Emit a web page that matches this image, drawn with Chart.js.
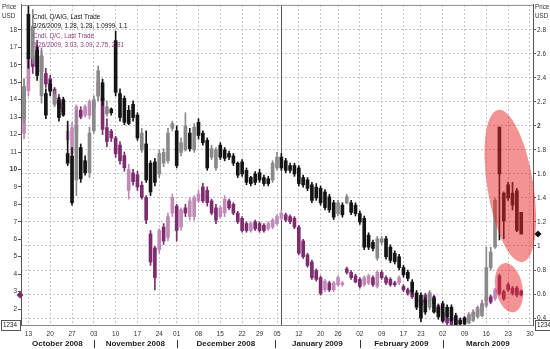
<!DOCTYPE html>
<html>
<head>
<meta charset="utf-8">
<title>AIG / C candles</title>
<script src="https://cdn.jsdelivr.net/npm/chart.js@4.4.1/dist/chart.umd.min.js"></script>
<style>
  html, body { margin: 0; padding: 0; background: #fff; }
  #wrap { width: 550px; height: 349px; }
</style>
</head>
<body>
<div id="wrap"><canvas id="chart" width="550" height="349"></canvas></div>
<script>
// one entry per trading day, 10 Oct 2008 (index 0) to 26 Mar 2009 (index 114)
const aigOpen = [2.06,2.93,2.56,2.63,2.25,2.27,2.35,2.18,2.21,2.22,
  1.77,1.75,1.55,1.82,1.71,1.61,1.96,2.25,2.36,2.10,
  2.14,2.71,2.27,2.23,2.13,2.18,2.09,1.80,1.85,1.69,
  1.70,1.60,1.69,1.71,1.98,1.96,1.78,1.80,1.94,1.80,
  2.03,1.94,1.88,1.74,1.65,1.84,1.80,1.77,1.75,1.69,
  1.70,1.63,1.57,1.60,1.61,1.57,1.56,1.55,1.65,1.74,
  1.71,1.67,1.67,1.65,1.57,1.55,1.51,1.49,1.48,1.45,
  1.41,1.36,1.27,1.34,1.36,1.36,1.34,1.27,1.23,1.09,
  1.03,0.90,1.03,1.06,0.99,0.94,0.91,0.82,0.78,0.70,
  0.61,0.59,0.55,0.49,0.56,0.49,0.52,0.49,0.49,0.42,
  0.38,0.40,0.36,0.38,0.41,0.42,0.55,0.82,0.99,1.99,
  1.44,1.51,1.44,1.46,1.28];
const aigHigh = [2.39,3.00,2.97,2.67,2.65,2.31,2.38,2.29,2.24,2.24,
  2.04,1.82,2.13,1.85,1.75,1.99,2.25,2.50,2.39,2.21,
  2.15,2.79,2.31,2.25,2.17,2.21,2.11,1.98,1.96,1.71,
  1.73,1.80,1.81,1.98,2.04,2.00,1.90,2.11,1.98,2.02,
  2.06,1.96,1.90,1.84,1.82,1.86,1.82,1.79,1.77,1.70,
  1.72,1.65,1.58,1.62,1.64,1.59,1.58,1.71,1.78,1.77,
  1.73,1.69,1.69,1.67,1.59,1.57,1.53,1.52,1.50,1.47,
  1.43,1.38,1.38,1.36,1.43,1.38,1.36,1.29,1.25,1.11,
  1.05,1.08,1.08,1.08,1.01,0.96,0.93,0.84,0.80,0.72,
  0.63,0.61,0.57,0.63,0.58,0.51,0.54,0.51,0.51,0.44,
  0.40,0.41,0.44,0.47,0.49,0.55,0.99,0.99,1.40,1.99,
  1.45,1.53,1.53,1.48,1.28];
const aigLow = [2.03,2.48,2.52,2.38,2.19,2.06,2.25,2.16,2.04,2.08,
  1.67,1.34,1.42,1.53,1.59,1.57,1.94,2.21,2.17,2.08,
  2.09,2.25,2.04,2.01,2.01,2.04,1.88,1.78,1.53,1.42,
  1.50,1.57,1.66,1.69,1.96,1.65,1.75,1.79,1.79,1.78,
  1.89,1.84,1.63,1.72,1.63,1.72,1.71,1.72,1.67,1.57,
  1.58,1.51,1.50,1.51,1.53,1.50,1.50,1.53,1.63,1.63,
  1.61,1.61,1.58,1.50,1.49,1.46,1.36,1.38,1.34,1.30,
  1.28,1.22,1.25,1.24,1.35,1.26,1.25,1.18,0.97,0.97,
  0.96,0.88,1.01,0.89,0.86,0.85,0.80,0.74,0.71,0.60,
  0.47,0.37,0.43,0.47,0.44,0.39,0.37,0.40,0.37,0.33,
  0.34,0.34,0.35,0.37,0.40,0.41,0.49,0.80,0.98,1.05,
  1.06,1.38,1.30,1.12,1.0999];
const aigClose = [2.33,2.56,2.83,2.42,2.58,2.09,2.29,2.26,2.07,2.09,
  1.69,1.36,2.00,1.56,1.61,1.94,2.21,2.46,2.21,2.16,
  2.11,2.28,2.07,2.03,2.02,2.07,1.90,1.94,1.55,1.45,
  1.53,1.77,1.78,1.94,2.02,1.67,1.86,2.00,1.81,1.99,
  1.92,1.86,1.65,1.81,1.80,1.74,1.73,1.74,1.69,1.59,
  1.60,1.53,1.52,1.53,1.55,1.52,1.52,1.69,1.74,1.65,
  1.63,1.63,1.60,1.52,1.51,1.48,1.38,1.40,1.36,1.32,
  1.30,1.24,1.36,1.26,1.41,1.28,1.27,1.20,0.99,0.99,
  0.98,1.06,1.06,0.91,0.88,0.87,0.82,0.76,0.73,0.62,
  0.49,0.40,0.45,0.61,0.45,0.41,0.38,0.41,0.38,0.34,
  0.35,0.35,0.42,0.45,0.47,0.52,0.82,0.95,1.38,1.60,
  1.21,1.40,1.34,1.13,1.1];

const citiOpen = [12.06,14.51,16.50,17.00,16.50,15.50,15.20,14.60,14.10,13.80,
  11.70,10.90,12.20,13.40,13.10,13.10,13.50,14.20,14.10,12.40,
  12.20,11.80,11.40,10.80,8.80,9.80,9.70,9.10,8.40,6.30,
  5.50,5.40,6.70,6.10,7.50,7.90,6.70,7.80,7.30,7.30,
  8.20,9.00,8.80,8.20,7.80,7.30,7.50,8.20,8.00,7.50,
  7.20,6.90,6.50,7.00,6.90,6.80,6.60,6.70,6.90,7.20,
  7.40,7.30,7.20,6.70,5.90,5.10,4.70,4.20,3.80,3.10,
  3.50,3.10,3.40,3.40,4.30,4.10,3.90,3.70,3.40,3.50,
  3.80,3.30,4.10,3.80,3.70,3.50,3.50,3.30,3.10,3.10,
  2.40,2.50,2.80,2.50,2.70,2.20,1.80,1.50,1.40,1.10,
  1.20,1.30,1.40,1.60,1.70,1.90,2.20,2.70,2.60,3.90,
  3.00,3.40,3.20,3.20,3.03];
const citiHigh = [15.20,17.10,17.40,17.40,16.80,15.80,15.40,14.70,14.30,13.90,
  12.50,12.70,13.70,13.60,13.70,14.00,14.10,15.40,14.50,12.90,
  12.30,11.90,11.60,11.00,10.30,10.00,9.90,9.30,8.50,6.50,
  5.60,6.60,6.90,7.50,8.60,8.00,7.80,8.00,8.40,8.50,
  8.80,9.20,9.00,8.30,8.00,7.90,8.50,8.30,8.10,7.60,
  7.30,7.00,7.00,7.10,7.00,6.90,7.00,7.20,7.40,7.70,
  7.50,7.40,7.30,6.80,6.00,5.20,4.80,4.30,3.90,3.70,
  3.60,3.60,3.90,3.60,4.40,4.20,4.00,3.80,3.90,4.00,
  3.90,4.20,4.20,3.90,3.80,3.60,3.90,3.40,3.20,3.20,
  2.80,2.60,2.90,3.00,2.80,2.30,1.90,1.60,1.50,1.50,
  1.50,1.60,1.80,1.90,2.20,2.40,2.80,2.80,3.20,4.00,
  3.10,3.50,3.30,3.30,3.09];
const citiLow = [11.77,14.20,15.50,15.70,15.40,14.70,14.30,13.70,13.30,13.10,
  11.50,10.70,12.00,12.90,13.00,12.90,13.30,14.00,12.00,11.30,
  11.60,10.70,10.30,9.90,8.30,9.10,8.80,8.30,6.90,4.50,
  3.10,5.20,5.70,5.90,7.30,5.90,6.50,7.30,7.10,7.10,
  8.10,8.10,7.90,7.40,6.90,7.20,7.30,7.70,7.40,6.90,
  6.40,6.40,6.40,6.50,6.40,6.40,6.50,6.60,6.80,7.10,
  7.00,6.90,6.60,5.10,4.90,4.40,3.70,3.60,2.80,3.00,
  3.00,3.00,3.30,3.30,4.00,3.70,3.50,3.20,3.30,3.40,
  3.30,3.20,3.70,3.40,3.30,3.30,3.40,3.00,2.80,2.60,
  2.30,2.10,2.30,2.40,2.20,1.70,1.20,1.10,1.05,1.05,
  1.10,1.20,1.30,1.50,1.60,1.80,2.10,2.30,2.50,2.80,
  2.50,3.00,2.80,2.70,2.75];
const citiClose = [14.51,16.50,15.90,15.90,15.60,14.90,14.50,13.80,13.50,13.30,
  12.20,12.40,13.60,13.00,13.60,13.90,14.00,15.00,12.30,11.60,
  11.80,10.90,10.50,10.10,10.00,9.30,9.00,8.40,7.10,4.70,
  3.80,6.50,5.90,7.30,8.40,6.50,7.70,7.50,8.20,8.40,
  8.60,8.20,8.10,7.50,7.10,7.80,8.30,7.80,7.50,7.00,
  6.50,6.50,6.90,6.60,6.50,6.50,6.90,7.10,7.30,7.50,
  7.10,7.00,6.70,5.20,5.00,4.50,3.80,3.70,2.90,3.60,
  3.10,3.50,3.80,3.50,4.10,3.80,3.55,3.30,3.80,3.90,
  3.40,4.10,3.80,3.50,3.40,3.40,3.80,3.10,2.90,2.70,
  2.70,2.20,2.40,2.90,2.30,1.80,1.30,1.20,1.10,1.40,
  1.40,1.50,1.70,1.80,2.10,2.30,2.60,2.40,3.10,2.90,
  2.60,3.10,2.90,2.80,2.81];

const lastDate = '3/26/2009';

// x axis: trading-day index of each Monday (or first day of the week)
const weekTickIdx = [1, 6, 11, 16, 21, 26, 31, 35, 40, 45, 50, 54, 58, 63, 68, 72, 77, 82, 87, 91, 96, 101, 106, 111, 116];
const weekTickLabels = ['13', '20', '27', '03', '10', '17', '24', '01', '08', '15', '22', '29', '05', '12', '20', '26', '02', '09', '17', '23', '02', '09', '16', '23', '30'];
const monthNames = ['October 2008', 'November 2008', 'December 2008', 'January 2009', 'February 2009', 'March 2009'];
const monthStartIdx = [-0.7, 16, 35, 57.5, 77, 96, 116.7];

const aigTicks = [0.4, 0.6, 0.8, 1, 1.2, 1.4, 1.6, 1.8, 2, 2.2, 2.4, 2.6, 2.8];
const citiTicks = [2, 3, 4, 5, 6, 7, 8, 9, 10, 11, 12, 13, 14, 15, 16, 17, 18];

const FONT = '"Liberation Sans", Arial, sans-serif';
const markerDay = 59;
const highlights = [
  { day: 111.5, value: 1.50, rx: 23, ry: 77, rot: -0.16 },
  { day: 111.2, value: 0.653, rx: 13.5, ry: 25, rot: -0.2 }
];

const days = aigOpen.map((_, i) => i);
const aigColors = days.map(i => aigClose[i] >= aigOpen[i] ? '#8a8a8a' : '#141414');
const citiColors = days.map(i => citiClose[i] >= citiOpen[i] ? '#c08ab6' : '#7d2d6e');

function candleSets(open, high, low, close, colors, axis, order) {
  return [
    {
      label: axis + ' body',
      data: days.map(i => ({ x: i, y: [open[i], close[i]] })),
      backgroundColor: colors,
      yAxisID: axis,
      barThickness: 3,
      minBarLength: 1,
      grouped: false,
      order: order
    },
    {
      label: axis + ' wick',
      data: days.map(i => ({ x: i, y: [low[i], high[i]] })),
      backgroundColor: colors,
      yAxisID: axis,
      barThickness: 1,
      grouped: false,
      order: order + 1
    }
  ];
}

const annotations = {
  id: 'annotations',
  beforeDatasetsDraw(chart) {
    const { ctx, chartArea: area, scales } = chart;
    const px = Math.round(scales.x.getPixelForValue(markerDay)) + 0.5;
    ctx.save();
    ctx.strokeStyle = '#4d5566';
    ctx.lineWidth = 1;
    ctx.beginPath();
    ctx.moveTo(px, area.top);
    ctx.lineTo(px, area.bottom);
    ctx.stroke();
    ctx.restore();
  },
  afterDatasetsDraw(chart) {
    const { ctx, chartArea: area, scales } = chart;
    const last = days.length - 1;
    ctx.save();
    ctx.fillStyle = 'rgba(232, 40, 40, 0.5)';
    highlights.forEach(h => {
      ctx.beginPath();
      ctx.ellipse(scales.x.getPixelForValue(h.day), scales.y.getPixelForValue(h.value), h.rx, h.ry, h.rot, 0, Math.PI * 2);
      ctx.fill();
    });

    const lines = [
      ['Cndl, Q/AIG, Last Trade', '#111'],
      [`${lastDate}, ${aigOpen[last]}, ${aigHigh[last]}, ${aigLow[last]}, ${aigClose[last]}`, '#111'],
      ['Cndl, Q/C, Last Trade', '#8e3d80'],
      [`${lastDate}, ${citiOpen[last]}, ${citiHigh[last]}, ${citiLow[last]}, ${citiClose[last]}`, '#8e3d80']
    ];
    ctx.font = `6.3px ${FONT}`;
    ctx.textBaseline = 'middle';
    ctx.textAlign = 'left';
    lines.forEach((l, k) => {
      ctx.fillStyle = l[1];
      ctx.fillText(l[0], area.left + 12, area.top + 12 + k * 9.5);
    });
    ctx.restore();
  },
  afterDraw(chart) {
    const { ctx, chartArea: area, scales } = chart;
    const last = days.length - 1;
    ctx.save();

    // top frame line
    ctx.strokeStyle = '#8a8a8a';
    ctx.lineWidth = 1;
    ctx.beginPath();
    ctx.moveTo(area.left, area.top + 0.5);
    ctx.lineTo(area.right, area.top + 0.5);
    ctx.stroke();

    // last-close markers on both axes
    const diamond = (x, y, color) => {
      ctx.fillStyle = color;
      ctx.beginPath();
      ctx.moveTo(x, y - 3.5);
      ctx.lineTo(x + 3.5, y);
      ctx.lineTo(x, y + 3.5);
      ctx.lineTo(x - 3.5, y);
      ctx.closePath();
      ctx.fill();
    };
    diamond(area.left - 1, scales.y1.getPixelForValue(citiClose[last]), '#7d2d6e');
    diamond(area.right + 5, scales.y.getPixelForValue(aigClose[last]), '#111');

    // month row
    ctx.font = `bold 8px ${FONT}`;
    ctx.fillStyle = '#222';
    ctx.textAlign = 'center';
    ctx.textBaseline = 'middle';
    monthNames.forEach((m, k) => {
      const c = (monthStartIdx[k] + monthStartIdx[k + 1]) / 2;
      ctx.fillText(m, scales.x.getPixelForValue(c), area.bottom + 19);
    });
    ctx.strokeStyle = '#333';
    monthStartIdx.slice(1, -1).forEach(v => {
      const px = Math.round(scales.x.getPixelForValue(v)) + 0.5;
      ctx.beginPath();
      ctx.moveTo(px, area.bottom + 15);
      ctx.lineTo(px, area.bottom + 23);
      ctx.stroke();
    });

    // unit captions
    ctx.font = `6.3px ${FONT}`;
    ctx.fillStyle = '#333';
    ctx.textAlign = 'left';
    ctx.fillText('Price', 2, 7);
    ctx.fillText('USD', 2, 16);
    ctx.fillText('Price', area.right + 2, 7);
    ctx.fillText('USD', area.right + 2, 16);

    // small boxed counters at the corners
    ctx.strokeStyle = '#555';
    ctx.strokeRect(1.5, area.bottom - 4.5, 19, 10);
    ctx.strokeRect(area.right + 2.5, area.bottom - 4.5, 20, 10);
    ctx.fillStyle = '#222';
    ctx.fillText('1234', 3, area.bottom + 0.5);
    ctx.fillText('1234', area.right + 4, area.bottom + 0.5);
    ctx.restore();
  }
};

Chart.defaults.font.family = FONT;

const chart = new Chart(document.getElementById('chart').getContext('2d'), {
  type: 'bar',
  data: {
    datasets: [
      ...candleSets(aigOpen, aigHigh, aigLow, aigClose, aigColors, 'y', 1),
      ...candleSets(citiOpen, citiHigh, citiLow, citiClose, citiColors, 'y1', 3)
    ]
  },
  options: {
    responsive: false,
    animation: false,
    events: [],
    layout: { padding: { top: 4, left: 0, right: 0, bottom: 0 } },
    plugins: { legend: { display: false }, tooltip: { enabled: false } },
    scales: {
      x: {
        type: 'linear',
        min: -0.7,
        max: 116.7,
        offset: false,
        afterBuildTicks: s => { s.ticks = weekTickIdx.map(v => ({ value: v })); },
        afterFit: s => { s.height = 24; },
        grid: { color: '#c4c4c4', offset: false, drawTicks: false },
        border: { display: true, color: '#8a8a8a', dash: [2, 2] },
        ticks: {
          autoSkip: false,
          maxRotation: 0,
          padding: 5,
          color: '#333',
          font: { size: 6.5 },
          callback: (v, i) => weekTickLabels[i]
        }
      },
      y: {
        type: 'linear',
        position: 'right',
        min: 0.342,
        max: 3.008,
        beginAtZero: false,
        afterBuildTicks: s => { s.ticks = aigTicks.map(v => ({ value: v })); },
        afterFit: s => { s.width = 17; },
        grid: { color: '#c4c4c4', drawTicks: true, tickLength: 3, tickColor: '#555', tickBorderDash: [] },
        border: { display: true, color: '#555', dash: [2, 2] },
        ticks: {
          padding: 1,
          color: '#333',
          font: c => ({ size: 6.5, weight: c.tick && c.tick.value === 2 ? 'bold' : 'normal' }),
          callback: v => String(Number(v.toFixed(1)))
        }
      },
      y1: {
        type: 'linear',
        position: 'left',
        min: 1.086,
        max: 19.43,
        beginAtZero: false,
        afterBuildTicks: s => { s.ticks = citiTicks.map(v => ({ value: v })); },
        afterFit: s => { s.width = 21; },
        grid: { drawOnChartArea: false, drawTicks: true, tickLength: 3, color: '#555' },
        border: { display: true, color: '#555' },
        ticks: {
          padding: 1,
          color: '#333',
          font: c => ({ size: 6.5, weight: c.tick && c.tick.value === 10 ? 'bold' : 'normal' }),
          callback: v => String(v)
        }
      }
    }
  },
  plugins: [annotations]
});
</script>
</body>
</html>
